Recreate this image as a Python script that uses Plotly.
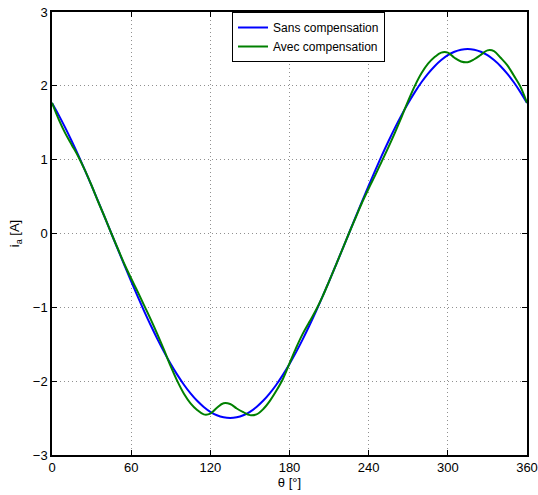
import plotly.graph_objects as go

# angle grid, degrees
theta = list(range(0, 365, 5))

# phase current without compensation [A]
i_sans = [1.768, 1.607, 1.434, 1.250, 1.057, 0.855, 0.647, 0.434, 0.218, 0.000,
          -0.218, -0.434, -0.647, -0.855, -1.057, -1.250, -1.434, -1.607, -1.768,
          -1.915, -2.048, -2.165, -2.266, -2.349, -2.415, -2.462, -2.490, -2.500,
          -2.490, -2.462, -2.415, -2.349, -2.266, -2.165, -2.048, -1.915, -1.768,
          -1.607, -1.434, -1.250, -1.057, -0.855, -0.647, -0.434, -0.218, 0.000,
          0.218, 0.434, 0.647, 0.855, 1.057, 1.250, 1.434, 1.607, 1.768,
          1.915, 2.048, 2.165, 2.266, 2.349, 2.415, 2.462, 2.490, 2.500,
          2.490, 2.462, 2.415, 2.349, 2.266, 2.165, 2.048, 1.915, 1.768]

# phase current with compensation [A]
i_avec = [1.77, 1.55, 1.36, 1.20, 1.04, 0.855, 0.65, 0.43, 0.22, 0.00,
          -0.21, -0.42, -0.61, -0.79, -0.98, -1.17, -1.37, -1.58, -1.80,
          -2.00, -2.17, -2.30, -2.39, -2.45, -2.44, -2.36, -2.30, -2.31,
          -2.37, -2.42, -2.46, -2.45, -2.38, -2.27, -2.13, -1.97, -1.76,
          -1.55, -1.36, -1.20, -1.04, -0.855, -0.647, -0.434, -0.218, 0.00,
          0.21, 0.42, 0.61, 0.79, 0.98, 1.17, 1.37, 1.58, 1.80,
          2.00, 2.17, 2.30, 2.39, 2.45, 2.45, 2.38, 2.33, 2.32,
          2.36, 2.42, 2.48, 2.47, 2.38, 2.28, 2.14, 1.99, 1.77]

x_ticks = [0, 60, 120, 180, 240, 300, 360]
y_ticks = [-3, -2, -1, 0, 1, 2, 3]

fig = go.Figure()
fig.add_trace(go.Scatter(x=theta, y=i_sans, mode="lines", name="Sans compensation",
                         line=dict(color="#0000ff", width=2, shape="spline")))
fig.add_trace(go.Scatter(x=theta, y=i_avec, mode="lines", name="Avec compensation",
                         line=dict(color="#008000", width=2, shape="spline")))

axis_style = dict(
    showline=True, linecolor="black", linewidth=1.5, mirror="allticks",
    ticks="inside", ticklen=5, tickcolor="black", tickwidth=1,
    showgrid=True, gridcolor="#909090", gridwidth=1, griddash="1px,3px",
    zeroline=False, automargin=False, tickfont=dict(size=13, color="black"),
)

fig.update_xaxes(range=[0, 360], tickvals=x_ticks,
                 title=dict(text="θ [°]", font=dict(size=13), standoff=2),
                 **axis_style)
fig.update_yaxes(range=[-3, 3], tickvals=y_ticks,
                 title=dict(text="i<sub>a</sub> [A]", font=dict(size=13), standoff=10),
                 **axis_style)

fig.update_layout(
    width=538, height=495,
    margin=dict(l=52, r=11, t=12, b=40),
    font=dict(family="Liberation Sans, Arial", size=13, color="black"),
    plot_bgcolor="white",
    paper_bgcolor="white",
    legend=dict(x=0.379, y=1, xanchor="left", yanchor="top",
                bgcolor="white", bordercolor="black", borderwidth=1,
                font=dict(size=12), tracegroupgap=0),
)

# drop the default body margin so the figure sits at the window's corner
fig.write_html("out.html", config={"displayModeBar": False},
               post_script="document.body.style.margin = '0';")
